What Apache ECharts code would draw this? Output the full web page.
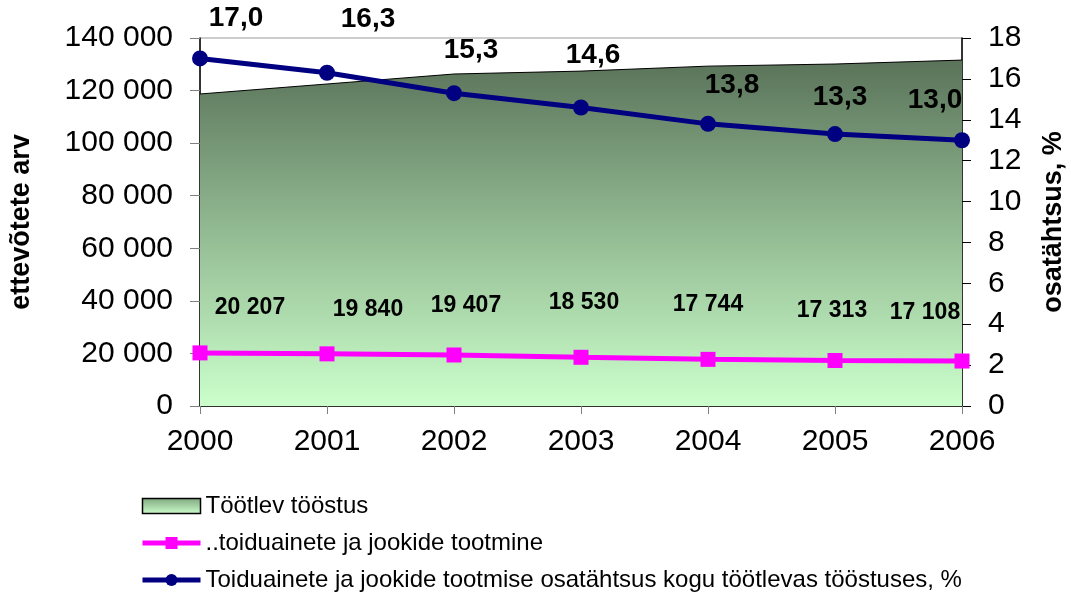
<!DOCTYPE html>
<html>
<head>
<meta charset="utf-8">
<script src="https://cdn.jsdelivr.net/npm/echarts@6/dist/echarts.min.js"></script>
<style>
html,body{margin:0;padding:0;background:#fff;}
#c{width:1071px;height:595px;}
</style>
</head>
<body>
<div id="c"></div>
<script>
// ---- data ----
const years = ['2000','2001','2002','2003','2004','2005','2006'];
const manufacturing = [118700, 122500, 126300, 127400, 129300, 130100, 131600];
const foodDrink = [20207, 19840, 19407, 18530, 17744, 17313, 17108];
const foodShare = [17.0, 16.3, 15.3, 14.6, 13.8, 13.3, 13.0];
const leftTicks = [0, 20000, 40000, 60000, 80000, 100000, 120000, 140000];
const rightTicks = [0, 2, 4, 6, 8, 10, 12, 14, 16, 18];
const seriesNames = ['Töötlev tööstus', '..toiduainete ja jookide tootmine',
  'Toiduainete ja jookide tootmise osatähtsus kogu töötlevas tööstuses, %'];

// ---- label placement (layout only) ----
const foodLabelShift = [[50,-45],[41,-44],[12,-49],[3,-55],[0,-55],[-3,-50],[-37,-48]];
const shareLabelShift = [[36,-40],[41,-53],[17,-43],[12,-52],[24,-39],[5,-37],[-27,-40]];

const FONT = '"Liberation Sans", Arial, sans-serif';
const fmtThousands = v => String(v).replace(/\B(?=(\d{3})+(?!\d))/g, ' ');
const fmtComma = v => v.toFixed(1).replace('.', ',');

const chart = echarts.init(document.getElementById('c'), null, {renderer: 'canvas'});

const areaGrad = new echarts.graphic.LinearGradient(0, 0, 0, 1, [
  {offset: 0, color: '#5a735a'},
  {offset: 0.5, color: '#93bb93'},
  {offset: 1, color: '#ccffcc'}
]);
const legendGrad = new echarts.graphic.LinearGradient(0, 0, 0, 1, [
  {offset: 0, color: '#7fa67f'},
  {offset: 1, color: '#ccffcc'}
]);

const option = {
  animation: false,
  backgroundColor: '#fff',
  textStyle: {fontFamily: FONT},
  grid: {left: 200, right: 109, top: 38, bottom: 189, outerBoundsMode: 'none', containLabel: false,
    show: true, borderColor: '#9a9a9a', borderWidth: 1, backgroundColor: 'transparent'},
  legend: {
    orient: 'vertical', left: 140, top: 494, padding: 0,
    itemWidth: 58, itemHeight: 15, itemGap: 13,
    textStyle: {fontFamily: FONT, fontSize: 24, color: '#000'},
    data: [
      {name: seriesNames[0], icon: 'rect', itemStyle: {color: legendGrad, borderColor: '#000', borderWidth: 1.5}},
      {name: seriesNames[1], lineStyle: {width: 5, color: '#ff00ff'}},
      {name: seriesNames[2], lineStyle: {width: 5, color: '#000080'}}
    ]
  },
  xAxis: {
    type: 'category', data: years, boundaryGap: false,
    axisLine: {lineStyle: {color: '#000', width: 1.5}},
    axisTick: {show: true, length: 8, lineStyle: {color: '#808080'}},
    axisLabel: {fontFamily: FONT, fontSize: 30, color: '#000', margin: 21}
  },
  yAxis: [
    {
      type: 'value', min: leftTicks[0], max: leftTicks[leftTicks.length-1], interval: leftTicks[1]-leftTicks[0],
      name: 'ettevõtete arv', nameLocation: 'middle', nameGap: 165, nameRotate: 90,
      nameTextStyle: {fontFamily: FONT, fontSize: 27, fontWeight: 'bold', color: '#000'},
      axisLine: {show: true, lineStyle: {color: '#000', width: 1.5}},
      axisTick: {show: true, length: 10, lineStyle: {color: '#808080'}},
      splitLine: {show: false},
      axisLabel: {fontFamily: FONT, fontSize: 30, color: '#000', margin: 27, formatter: fmtThousands}
    },
    {
      type: 'value', position: 'right', min: rightTicks[0], max: rightTicks[rightTicks.length-1], interval: rightTicks[1]-rightTicks[0],
      name: 'osatähtsus, %', nameLocation: 'middle', nameGap: 78, nameRotate: 90,
      nameTextStyle: {fontFamily: FONT, fontSize: 27, fontWeight: 'bold', color: '#000'},
      axisLine: {show: true, lineStyle: {color: '#000', width: 1.5}},
      axisTick: {show: true, length: 9, lineStyle: {color: '#000'}},
      splitLine: {show: false},
      axisLabel: {fontFamily: FONT, fontSize: 30, color: '#000', margin: 26}
    }
  ],
  series: [
    {
      name: seriesNames[0], type: 'line', yAxisIndex: 0, data: manufacturing,
      symbol: 'none', z: 1,
      lineStyle: {color: '#000', width: 1},
      itemStyle: {color: legendGrad},
      areaStyle: {color: areaGrad, opacity: 1}
    },
    {
      name: seriesNames[1], type: 'line', yAxisIndex: 0, z: 3,
      data: foodDrink.map((v, i) => ({
        value: v,
        label: {show: true, position: 'inside', offset: foodLabelShift[i],
          formatter: () => fmtThousands(v),
          fontFamily: FONT, fontSize: 23, fontWeight: 'bold', color: '#000'}
      })),
      symbol: 'rect', symbolSize: 15,
      lineStyle: {color: '#ff00ff', width: 5},
      itemStyle: {color: '#ff00ff'}
    },
    {
      name: seriesNames[2], type: 'line', yAxisIndex: 1, z: 4,
      data: foodShare.map((v, i) => ({
        value: v,
        label: {show: true, position: 'inside', offset: shareLabelShift[i],
          formatter: () => fmtComma(v),
          fontFamily: FONT, fontSize: 28, fontWeight: 'bold', color: '#000'}
      })),
      symbol: 'circle', symbolSize: 16,
      lineStyle: {color: '#000080', width: 5},
      itemStyle: {color: '#000080'}
    }
  ]
};
chart.setOption(option);
</script>
</body>
</html>
